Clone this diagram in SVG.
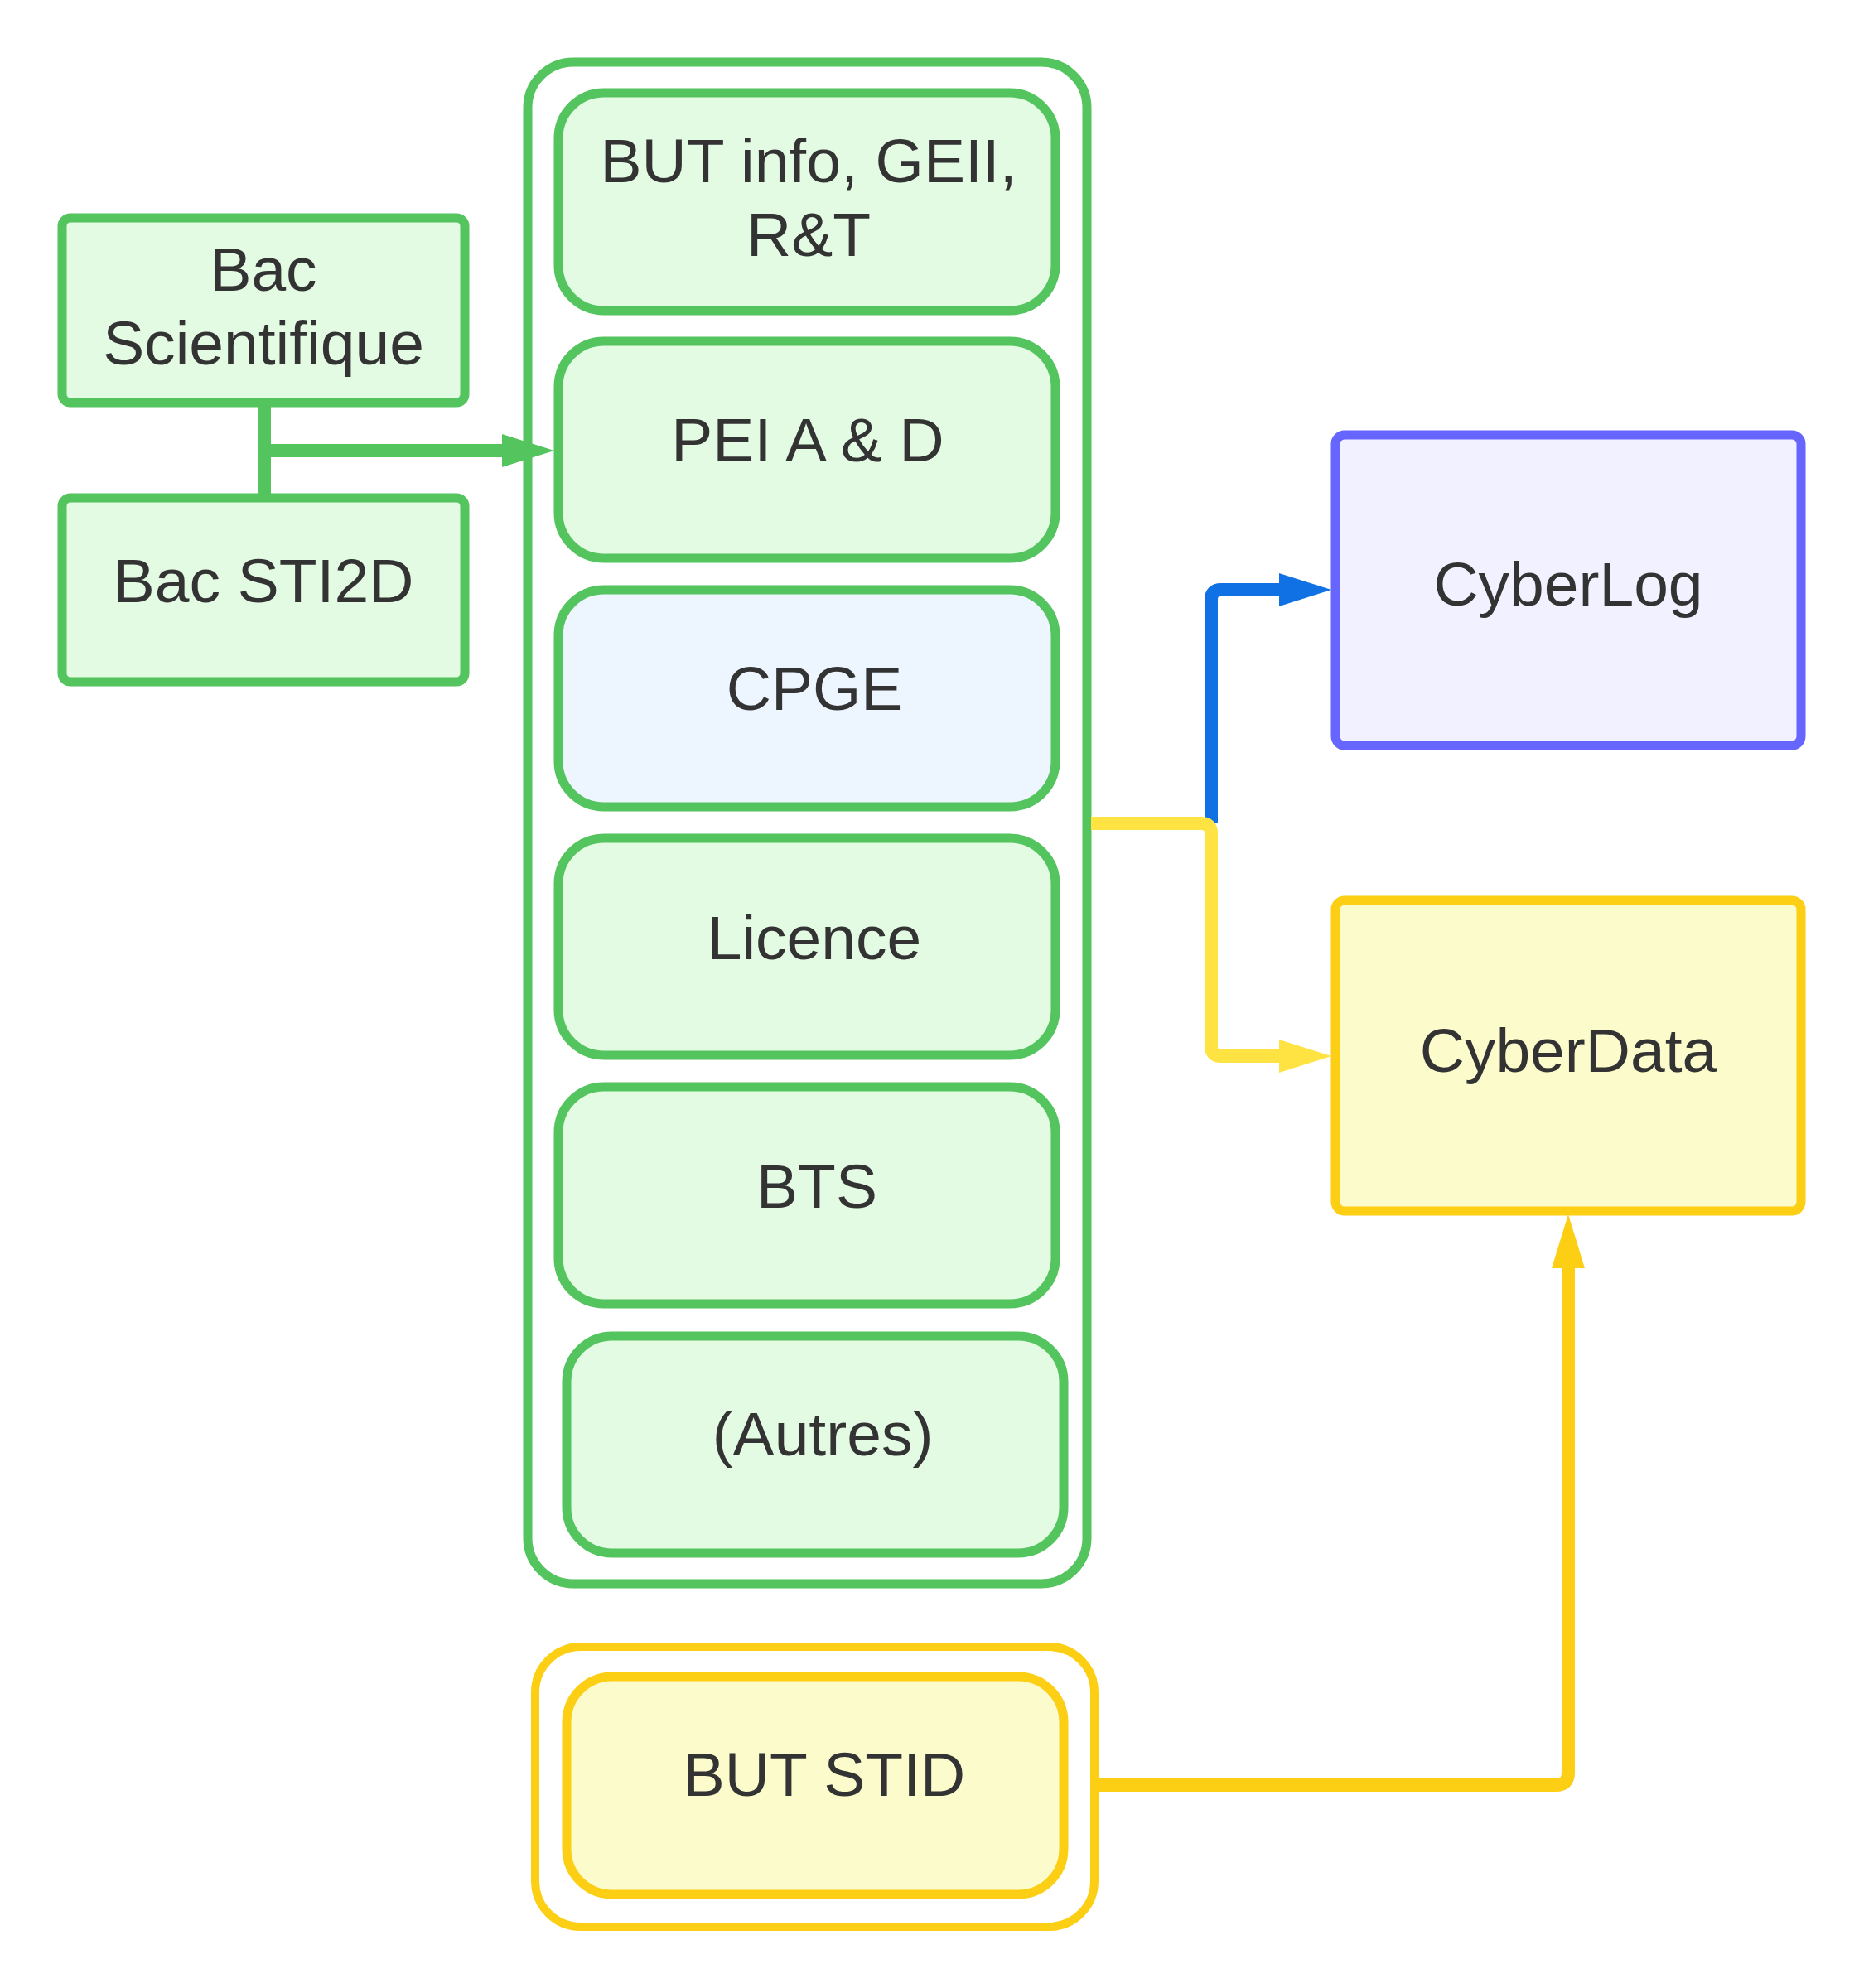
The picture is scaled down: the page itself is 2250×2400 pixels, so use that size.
<svg xmlns="http://www.w3.org/2000/svg" width="2250" height="2400" viewBox="0 0 2250 2400">
<style>
  .lbl { font-family: "Liberation Sans", Arial, sans-serif; font-size: 75px; fill: #333333; text-anchor: middle; }
  .g { fill: #E3FAE3; stroke: #54C45E; stroke-width: 11; }
  .cont-g { fill: none; stroke: #54C45E; stroke-width: 11; }
  .cont-y { fill: none; stroke: #FCCE14; stroke-width: 10; }
  .y { fill: #FCFBCB; stroke: #FCCE14; stroke-width: 11; }
  .b { fill: #F1F1FF; stroke: #6666FF; stroke-width: 11; }
  .conn { fill: none; stroke-width: 16; stroke-linejoin: round; }
</style>
<defs>
  <marker id="arr-green" markerUnits="userSpaceOnUse" markerWidth="64" markerHeight="42" refX="0" refY="20" orient="auto">
    <path d="M0,0 L63,20 L0,40 Z" fill="#54C45E"/>
  </marker>
  <marker id="arr-blue" markerUnits="userSpaceOnUse" markerWidth="64" markerHeight="42" refX="0" refY="20" orient="auto">
    <path d="M0,0 L63,20 L0,40 Z" fill="#1071E5"/>
  </marker>
  <marker id="arr-ylight" markerUnits="userSpaceOnUse" markerWidth="64" markerHeight="42" refX="0" refY="20" orient="auto">
    <path d="M0,0 L63,20 L0,40 Z" fill="#FFE342"/>
  </marker>
  <marker id="arr-ydark" markerUnits="userSpaceOnUse" markerWidth="66" markerHeight="42" refX="0" refY="20" orient="auto">
    <path d="M0,0 L65,20 L0,40 Z" fill="#FCCE14"/>
  </marker>
</defs>
<rect width="2250" height="2400" fill="#FFFFFF"/>

<g id="container-green"><rect class="cont-g" x="637" y="75" width="675" height="1837" rx="55" ry="55"/></g>
<g id="container-yellow"><rect class="cont-y" x="646" y="1988" width="675" height="338" rx="55" ry="55"/></g>

<g id="bac-scientifique">
  <rect class="g" x="75" y="263" width="486" height="223" rx="10" ry="10"/>
  <text class="lbl" x="318" y="351">Bac</text>
  <text class="lbl" x="318" y="440">Scientifique</text>
</g>
<g id="bac-sti2d">
  <rect class="g" x="75" y="601" width="486" height="222" rx="10" ry="10"/>
  <text class="lbl" x="318" y="727">Bac STI2D</text>
</g>

<g id="but-info">
  <rect class="g" x="674" y="112" width="600" height="263" rx="55" ry="55"/>
  <text class="lbl" x="976" y="220">BUT info, GEII,</text>
  <text class="lbl" x="976" y="309">R&amp;T</text>
</g>
<g id="pei">
  <rect class="g" x="674" y="412" width="600" height="262" rx="55" ry="55"/>
  <text class="lbl" x="975" y="557">PEI A &amp; D</text>
</g>
<g id="cpge">
  <rect class="g" style="fill:#EDF5FF" x="674" y="712" width="600" height="262" rx="55" ry="55"/>
  <text class="lbl" x="983" y="857">CPGE</text>
</g>
<g id="licence">
  <rect class="g" x="674" y="1012" width="600" height="262" rx="55" ry="55"/>
  <text class="lbl" x="983" y="1158">Licence</text>
</g>
<g id="bts">
  <rect class="g" x="674" y="1312" width="600" height="262" rx="55" ry="55"/>
  <text class="lbl" x="986" y="1458">BTS</text>
</g>
<g id="autres">
  <rect class="g" x="684" y="1613" width="600" height="262" rx="55" ry="55"/>
  <text class="lbl" x="993" y="1757">(Autres)</text>
</g>
<g id="but-stid">
  <rect class="y" x="684" y="2024" width="600" height="263" rx="55" ry="55"/>
  <text class="lbl" x="995" y="2168">BUT STID</text>
</g>

<g id="cyberlog">
  <rect class="b" x="1612" y="525" width="562" height="375" rx="11" ry="11"/>
  <text class="lbl" x="1893" y="731">CyberLog</text>
</g>
<g id="cyberdata">
  <rect class="y" x="1612" y="1087" width="562" height="375" rx="11" ry="11"/>
  <text class="lbl" x="1893" y="1294">CyberData</text>
</g>

<g id="connectors">
  <path class="conn" stroke="#54C45E" d="M319,490 L319,597"/>
  <path class="conn" stroke="#54C45E" d="M319,544 L606,544" marker-end="url(#arr-green)"/>
  <path class="conn" stroke="#1071E5" d="M1462,994 L1462,724 Q1462,712 1474,712 L1544,712" marker-end="url(#arr-blue)"/>
  <path class="conn" stroke="#FFE342" d="M1317,994 L1450,994 Q1462,994 1462,1006 L1462,1263 Q1462,1275 1474,1275 L1544,1275" marker-end="url(#arr-ylight)"/>
  <path class="conn" stroke="#FCCE14" d="M1324,2155 L1878,2155 Q1893,2155 1893,2140 L1893,1531" marker-end="url(#arr-ydark)"/>
</g>
</svg>
